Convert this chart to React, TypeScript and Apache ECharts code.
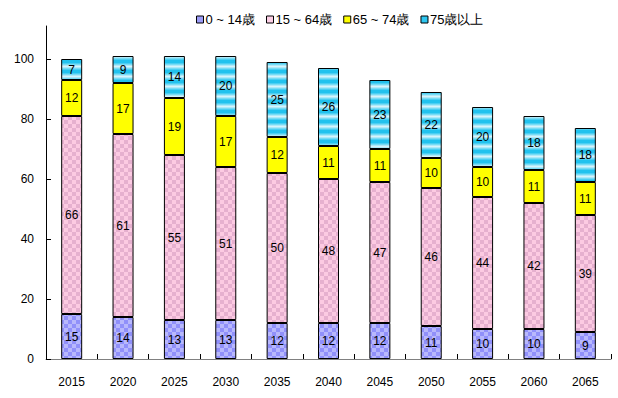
import React, { useEffect, useRef } from "react";
import * as echarts from "echarts";

const years = ["2015", "2020", "2025", "2030", "2035", "2040", "2045", "2050", "2055", "2060", "2065"];
const age0to14 = [15, 14, 13, 13, 12, 12, 12, 11, 10, 10, 9];
const age15to64 = [66, 61, 55, 51, 50, 48, 47, 46, 44, 42, 39];
const age65to74 = [12, 17, 19, 17, 12, 11, 11, 10, 10, 11, 11];
const age75plus = [7, 9, 14, 20, 25, 26, 23, 22, 20, 18, 18];
const seriesNames = ["0 ~ 14歳", "15 ~ 64歳", "65 ~ 74歳", "75歳以上"];
const yTicks = [0, 20, 40, 60, 80, 100];

function checker(c1: string, c2: string, size: number) {
  const cv = document.createElement("canvas");
  cv.width = size * 2;
  cv.height = size * 2;
  const ctx = cv.getContext("2d")!;
  ctx.fillStyle = c1;
  ctx.fillRect(0, 0, size * 2, size * 2);
  ctx.fillStyle = c2;
  ctx.fillRect(0, 0, size, size);
  ctx.fillRect(size, size, size, size);
  return cv;
}

function stripes(rows: string[]) {
  const cv = document.createElement("canvas");
  cv.width = 4;
  cv.height = rows.length;
  const ctx = cv.getContext("2d")!;
  rows.forEach((c, i) => {
    ctx.fillStyle = c;
    ctx.fillRect(0, i, 4, 1);
  });
  return cv;
}

export default function App() {
  const ref = useRef<HTMLDivElement>(null);
  useEffect(() => {
    if (!ref.current) return;
    document.body.style.margin = "0";
    const chart = echarts.init(ref.current, undefined, { renderer: "svg" });
    const bluePat = { image: checker("#9090fa", "#b8b8fc", 4), repeat: "repeat" as const };
    const pinkPat = { image: checker("#fccae2", "#e6b0cf", 4), repeat: "repeat" as const };
    const cyanPat = {
      image: stripes([
        "#22c2ee", "#22c2ee", "#22c2ee", "#4ccff2", "#7adcf5", "#aee9f9", "#d6f4fc", "#aee9f9", "#7adcf5", "#4ccff2",
      ]),
      repeat: "repeat" as const,
    };
    const fills: any[] = [bluePat, pinkPat, "#ffff00", cyanPat];
    const legendColors = ["#9c9cf8", "#fdd0e6", "#ffff00", "#2ec6f0"];
    const datas = [age0to14, age15to64, age65to74, age75plus];
    const font = "Liberation Sans, Arial, sans-serif";
    chart.setOption({
      animation: false,
      textStyle: { fontFamily: font },
      legend: {
        top: 8,
        left: 191,
        itemWidth: 7,
        itemHeight: 7,
        itemGap: 11,
        textStyle: { fontSize: 13, color: "#000", fontFamily: font, padding: [0, 0, 0, -3] },
        data: seriesNames.map((n, i) => ({
          name: n,
          icon: "rect",
          itemStyle: { color: legendColors[i], borderColor: "#000", borderWidth: 1 },
        })),
      },
      grid: { left: 46, right: 7, top: 26, bottom: 39 },
      xAxis: {
        type: "category",
        data: years,
        axisLine: { lineStyle: { color: "#808080", width: 1 } },
        axisTick: { show: true, inside: true, length: 5, lineStyle: { color: "#000" } },
        axisLabel: { color: "#000", fontSize: 12, margin: 17, fontFamily: font },
      },
      yAxis: {
        type: "value",
        min: 0,
        max: 111,
        interval: 20,
        splitLine: { show: false },
        axisLine: { show: true, lineStyle: { color: "#000", width: 1 } },
        axisTick: { show: true, inside: true, length: 5, lineStyle: { color: "#000" } },
        axisLabel: {
          color: "#000",
          fontSize: 12,
          margin: 12,
          fontFamily: font,
          showMaxLabel: false,
          formatter: (v: number) => (yTicks.includes(v) ? String(v) : ""),
        },
      },
      series: datas.map((d, i) => ({
        name: seriesNames[i],
        type: "bar",
        stack: "total",
        barWidth: 21,
        data: d,
        itemStyle: { color: fills[i], borderColor: "#000", borderWidth: 1 },
        label: {
          show: true,
          position: "inside",
          color: "#000",
          fontSize: 12,
          fontFamily: font,
        },
      })),
    });
    return () => chart.dispose();
  }, []);
  return <div ref={ref} style={{ width: 618, height: 398 }} />;
}
